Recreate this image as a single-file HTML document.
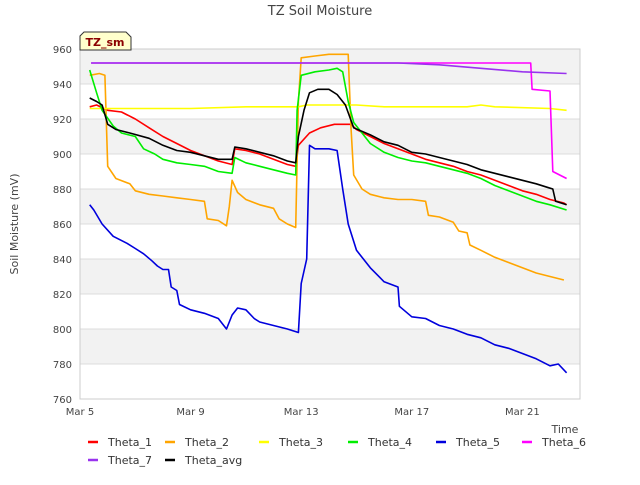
<!DOCTYPE html>
<html><head><meta charset="utf-8"><style>
body{margin:0;background:#fff;font-family:"Liberation Sans","DejaVu Sans",sans-serif}
svg text{font-family:"DejaVu Sans","Liberation Sans",sans-serif}
</style></head><body>
<svg id="c" width="640" height="480" viewBox="0 0 640 480">
<text x="320" y="15" text-anchor="middle" font-size="13" fill="#444">TZ Soil Moisture</text>
<text transform="translate(18,224) rotate(-90)" text-anchor="middle" font-size="11" fill="#444">Soil Moisture (mV)</text>
<text x="565" y="433" text-anchor="middle" font-size="11" fill="#444">Time</text>
<g id="grid"></g><g id="series"></g><g id="axes"></g><g id="legend"></g>
<g><path d="M80,50 L80,36 L84,32 L126,32 L131,37 L131,50 Z" fill="#ffffcc" stroke="#333"/><text x="105" y="46" text-anchor="middle" font-size="11" font-weight="bold" fill="#8b0000">TZ_sm</text></g>
</svg>
<script>
const yTicks=[760,780,800,820,840,860,880,900,920,940,960];
const xTickLabels=["Mar 5","Mar 9","Mar 13","Mar 17","Mar 21"];
const xTickDays=[0,4,8,12,16];
const names=["Theta_1","Theta_2","Theta_3","Theta_4","Theta_5","Theta_6","Theta_7","Theta_avg"];
const colors=["#ff0000","#ffa500","#ffff00","#00ee00","#0000dd","#ff00ff","#9933ee","#000000"];
const theta1=[[0.35,927],[0.6,928],[1,925],[1.5,924],[2,920],[2.5,915],[3,910],[3.5,906],[4,902],[4.5,899],[5,896],[5.5,894],[5.6,903],[6,902],[6.5,900],[7,897],[7.5,894],[7.8,893],[7.9,905],[8.3,912],[8.7,915],[9.2,917],[9.8,917],[10,914],[10.5,910],[11,906],[11.5,903],[12,900],[12.5,897],[13,895],[13.5,893],[14,890],[14.5,888],[15,885],[15.5,882],[16,879],[16.5,877],[17,874],[17.5,872],[17.6,871]];
const theta2=[[0.35,945],[0.7,946],[0.9,945],[1.0,893],[1.3,886],[1.8,883],[2.0,879],[2.5,877],[3,876],[3.5,875],[4,874],[4.5,873],[4.6,863],[5,862],[5.3,859],[5.4,870],[5.5,885],[5.7,878],[6,874],[6.5,871],[7,869],[7.2,863],[7.5,860],[7.8,858],[7.9,930],[8,955],[8.5,956],[9,957],[9.7,957],[9.8,915],[9.9,888],[10.2,880],[10.5,877],[11,875],[11.5,874],[12,874],[12.5,873],[12.6,865],[13,864],[13.5,861],[13.7,856],[14,855],[14.1,848],[14.5,845],[15,841],[15.5,838],[16,835],[16.5,832],[17,830],[17.5,828]];
const theta3=[[0.35,926],[2,926],[4,926],[6,927],[7.9,927],[8.2,928],[10,928],[11,927],[14,927],[14.5,928],[15,927],[17,926],[17.6,925]];
const theta4=[[0.35,948],[0.6,935],[0.8,925],[1.2,916],[1.5,912],[2,910],[2.3,903],[2.7,900],[3,897],[3.5,895],[4,894],[4.5,893],[5,890],[5.5,889],[5.6,898],[6,895],[6.5,893],[7,891],[7.5,889],[7.8,888],[7.85,925],[8,945],[8.5,947],[9,948],[9.3,949],[9.5,947],[9.7,930],[9.9,918],[10.2,912],[10.5,906],[11,901],[11.5,898],[12,896],[12.5,895],[13,893],[13.5,891],[14,889],[14.5,886],[15,882],[15.5,879],[16,876],[16.5,873],[17,871],[17.6,868]];
const theta5=[[0.35,871],[0.5,868],[0.8,860],[1.2,853],[1.7,849],[2,846],[2.3,843],[2.6,839],[2.8,836],[3.0,834],[3.2,834],[3.3,824],[3.5,822],[3.6,814],[4,811],[4.5,809],[5,806],[5.3,800],[5.5,808],[5.7,812],[6.0,811],[6.3,806],[6.5,804],[7,802],[7.5,800],[7.9,798],[8.0,826],[8.2,840],[8.3,905],[8.5,903],[9,903],[9.3,902],[9.5,880],[9.7,860],[10,845],[10.5,835],[11,827],[11.5,824],[11.55,813],[12,807],[12.5,806],[13,802],[13.5,800],[14,797],[14.5,795],[15,791],[15.5,789],[16,786],[16.5,783],[17,779],[17.3,780],[17.6,775]];
const theta6=[[0.4,952],[4,952],[8,952],[12,952],[16.3,952],[16.35,937],[17.0,936],[17.1,890],[17.6,886]];
const theta7=[[0.4,952],[6,952],[11.5,952],[13,951],[14.5,949],[16,947],[17.6,946]];
const thetaAvg=[[0.35,932],[0.6,930],[0.8,928],[1.0,917],[1.3,914],[1.8,912],[2.5,909],[3,905],[3.5,902],[4,901],[4.5,899],[5,897],[5.5,897],[5.6,904],[6,903],[6.5,901],[7,899],[7.5,896],[7.8,895],[7.9,910],[8.1,925],[8.3,935],[8.6,937],[9,937],[9.3,934],[9.6,928],[9.9,915],[10.5,911],[11,907],[11.5,905],[12,901],[12.5,900],[13,898],[13.5,896],[14,894],[14.5,891],[15,889],[15.5,887],[16,885],[16.5,883],[16.9,881],[17.1,880],[17.2,873],[17.6,871]];
const allSeries=[theta1,theta2,theta3,theta4,theta5,theta6,theta7,thetaAvg];
const L=80,R=580,T=49,B=399;
const x=d=>L+d*27.65;
const y=v=>B-(v-760)*(B-T)/200;
const NS="http://www.w3.org/2000/svg";
function mk(t,a,p){const e=document.createElementNS(NS,t);for(const k in a)e.setAttribute(k,a[k]);p.appendChild(e);return e;}
const grid=document.getElementById('grid');
for(let i=0;i<yTicks.length-1;i++){if(i%2===1){const r=mk('rect',{x:L,y:y(yTicks[i+1]),width:R-L,height:y(yTicks[i])-y(yTicks[i+1]),fill:'#f2f2f2'},grid);}}
yTicks.forEach(v=>{const l=mk('line',{x1:L,x2:R,y1:y(v),y2:y(v),stroke:'#dcdcdc'},grid);});
const ax=document.getElementById('axes');
mk('rect',{x:L,y:T,width:R-L,height:B-T,fill:'none',stroke:'#cccccc'},ax);
yTicks.forEach(v=>{const t=mk('text',{x:L-8,y:y(v)+4,'text-anchor':'end','font-size':'10',fill:'#444'},ax);t.textContent=v;});
xTickDays.forEach((d,i)=>{const t=mk('text',{x:x(d),y:B+16,'text-anchor':'middle','font-size':'10',fill:'#444'},ax);t.textContent=xTickLabels[i];});
const sg=document.getElementById('series');
allSeries.forEach((s,i)=>{const p=mk('polyline',{points:s.map(q=>x(q[0]).toFixed(1)+','+y(q[1]).toFixed(1)).join(' '),fill:'none',stroke:colors[i],'stroke-width':'1.6','stroke-linejoin':'round'},sg);});
const lg=document.getElementById('legend');
const lpos=[[88,442],[165,442],[259,442],[348,442],[436,442],[522,442],[88,460],[165,460]];
names.forEach((n,i)=>{const g=mk('g',{},lg);
mk('line',{x1:lpos[i][0],x2:lpos[i][0]+10,y1:lpos[i][1],y2:lpos[i][1],stroke:colors[i],'stroke-width':'2.5'},g);
const t=mk('text',{x:lpos[i][0]+20,y:lpos[i][1]+4,'font-size':'11',fill:'#333'},g);t.textContent=n;});
</script>
</body></html>
